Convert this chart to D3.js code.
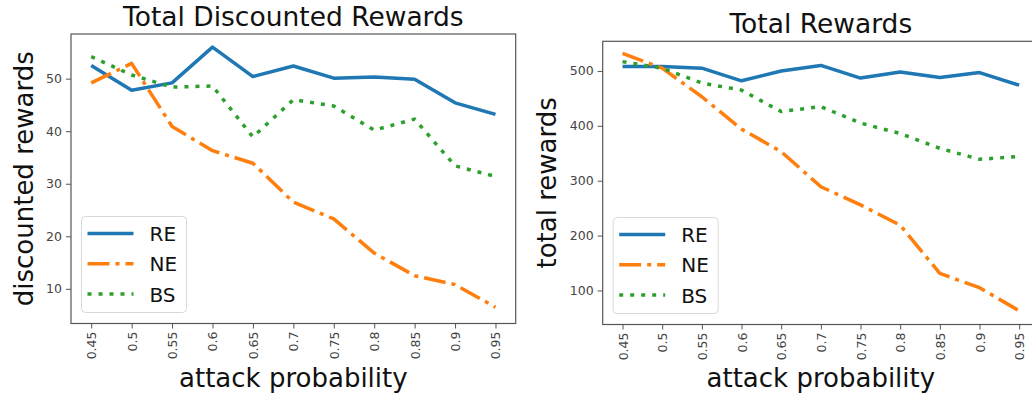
<!DOCTYPE html>
<html>
<head>
<meta charset="utf-8">
<script src="https://cdn.jsdelivr.net/npm/d3@7"></script>
<style>
  body { margin: 0; background: #fff; }
  text { font-family: "DejaVu Sans", sans-serif; }
</style>
</head>
<body>
<div id="canvas"></div>
<script>
"use strict"

/* data */
let probs = ["0.45", "0.5", "0.55", "0.6", "0.65", "0.7", "0.75", "0.8", "0.85", "0.9", "0.95"];
let seriesNames = ["RE", "NE", "BS"];

let discRE = [52.5, 47.8, 49.2, 56.0, 50.4, 52.4, 50.1, 50.3, 49.9, 45.4, 43.2];
let discNE = [49.2, 52.9, 40.9, 36.3, 33.9, 26.5, 23.3, 16.8, 12.5, 10.8, 6.5];
let discBS = [54.2, 50.7, 48.4, 48.6, 38.9, 46.0, 44.8, 40.2, 42.3, 33.4, 31.4];
let discTicks = [10, 20, 30, 40, 50];

let totRE = [508, 508, 505, 482, 500, 510, 487, 498, 488, 497, 474];
let totNE = [532, 505, 453, 394, 353, 289, 256, 219, 131, 105, 63];
let totBS = [517, 505, 478, 465, 426, 435, 405, 386, 359, 339, 344];
let totTicks = [100, 200, 300, 400, 500];

let colors = ["#1f77b4", "#ff7f0e", "#2ca02c"];
let dashes = [null, "22,6,4,6", "4,7"];

let drawing = d3.select("#canvas")
    .append("svg")
    .attr("width", 1032)
    .attr("height", 398)
    .style("display", "block");

drawing.append("rect")
    .attr("width", 1032)
    .attr("height", 398)
    .attr("fill", "white");

function drawPanel(p) {
    let x = d3.scalePoint()
        .domain(probs)
        .range([p.left, p.right])
        .padding(0.5);

    let y = d3.scaleLinear()
        .domain(p.yDomain)
        .range([p.bottom, p.top]);

    let g = drawing.append("g");

    /* lines */
    let line = d3.line()
        .x((d, i) => x(probs[i]))
        .y(d => y(d));

    p.series.forEach(function (vals, k) {
        g.append("path")
            .datum(vals)
            .attr("d", line)
            .attr("fill", "none")
            .attr("stroke", colors[k])
            .attr("stroke-width", 3.5)
            .attr("stroke-linejoin", "round")
            .attr("stroke-dasharray", dashes[k]);
    });

    /* frame */
    g.append("rect")
        .attr("x", p.left)
        .attr("y", p.top)
        .attr("width", p.right - p.left)
        .attr("height", p.bottom - p.top)
        .attr("fill", "none")
        .attr("stroke", "#555")
        .attr("stroke-width", 1.2);

    /* x axis */
    let xAxis = g.append("g")
        .attr("transform", "translate(0," + p.bottom + ")")
        .call(d3.axisBottom(x).tickSize(5).tickPadding(3));
    xAxis.select(".domain").remove();
    xAxis.selectAll("line").attr("stroke", "#555");
    xAxis.selectAll("text")
        .attr("font-size", 12.5)
        .attr("fill", "#444")
        .attr("text-anchor", "end")
        .attr("transform", "rotate(-90)")
        .attr("x", -8)
        .attr("y", 0)
        .attr("dy", "0.36em");

    /* y axis */
    let yAxis = g.append("g")
        .attr("transform", "translate(" + p.left + ",0)")
        .call(d3.axisLeft(y).tickValues(p.yTicks).tickSize(5).tickPadding(4));
    yAxis.select(".domain").remove();
    yAxis.selectAll("line").attr("stroke", "#555");
    yAxis.selectAll("text")
        .attr("font-size", 12.5)
        .attr("fill", "#444");

    /* title and axis labels */
    let cx = (p.left + p.right) / 2;
    g.append("text")
        .attr("x", cx)
        .attr("y", p.top - 8)
        .attr("text-anchor", "middle")
        .attr("font-size", 26.5)
        .attr("fill", "#111")
        .text(p.title);

    g.append("text")
        .attr("x", cx)
        .attr("y", 387)
        .attr("text-anchor", "middle")
        .attr("font-size", 26)
        .attr("fill", "#111")
        .text("attack probability");

    g.append("text")
        .attr("transform", "translate(" + p.yLabelX + "," + (p.top + p.bottom) / 2 + ") rotate(-90)")
        .attr("text-anchor", "middle")
        .attr("font-size", 26)
        .attr("fill", "#111")
        .text(p.yLabel);

    /* legend */
    let lx = p.left + 10.5;
    let ly = p.bottom - 11 - 96;
    let legend = g.append("g").attr("transform", "translate(" + lx + "," + ly + ")");
    legend.append("rect")
        .attr("width", 105)
        .attr("height", 96)
        .attr("rx", 4)
        .attr("fill", "white")
        .attr("fill-opacity", 0.8)
        .attr("stroke", "#d8d8d8");
    seriesNames.forEach(function (name, k) {
        let yy = 17 + k * 30.3;
        legend.append("line")
            .attr("x1", 6)
            .attr("x2", 52)
            .attr("y1", yy)
            .attr("y2", yy)
            .attr("stroke", colors[k])
            .attr("stroke-width", 3.5)
            .attr("stroke-dasharray", dashes[k]);
        legend.append("text")
            .attr("x", 68)
            .attr("y", yy + 7.5)
            .attr("font-size", 20)
            .attr("fill", "#111")
            .text(name);
    });
}

drawPanel({
    left: 71, right: 515.7, top: 34, bottom: 323.5,
    yDomain: [3.4, 58.5], yTicks: discTicks,
    series: [discRE, discNE, discBS],
    title: "Total Discounted Rewards",
    yLabel: "discounted rewards",
    yLabelX: 32.5
});

drawPanel({
    left: 602.7, right: 1039, top: 41.3, bottom: 324.5,
    yDomain: [38, 554], yTicks: totTicks,
    series: [totRE, totNE, totBS],
    title: "Total Rewards",
    yLabel: "total rewards",
    yLabelX: 556
});
</script>
</body>
</html>
